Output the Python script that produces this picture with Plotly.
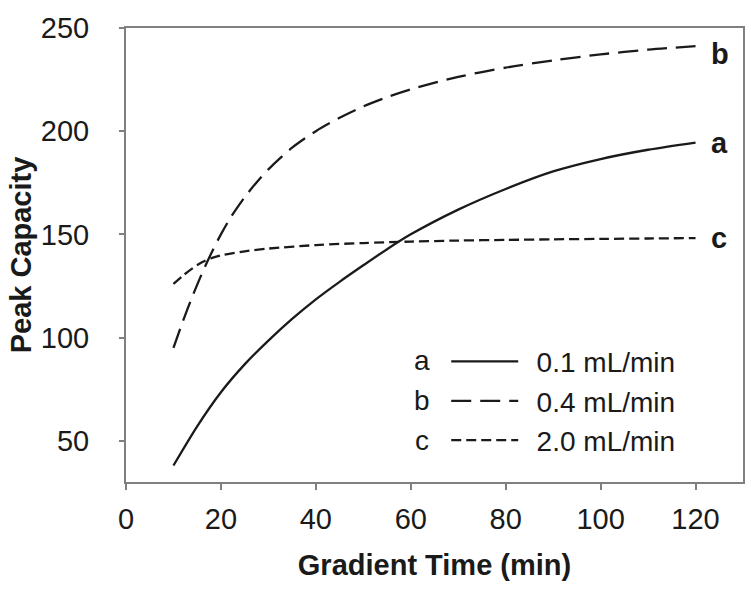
import plotly.graph_objects as go

# Gradient time (min)
time_a = [10, 15, 20, 25, 30, 35, 40, 45, 50, 55, 60, 70, 80, 90, 100, 110, 120]
cap_a = [38, 57, 73.5, 87, 98.5, 109, 118.5, 127, 135, 142.8, 150, 162, 172, 180.5, 186.5, 191, 194.5]

time_b = [10, 12, 14, 16, 18, 20, 22, 25, 28, 30, 35, 40, 45, 50, 55, 60, 70, 80, 90, 100, 110, 120]
cap_b = [95, 108, 120, 131, 141, 150, 158, 168, 176.5, 181.5, 192, 200, 206.5, 212, 216.5, 220.3, 226.3, 230.8, 234.3, 237.2, 239.5, 241.2]

time_c = [10, 12, 14, 16, 18, 20, 25, 30, 40, 50, 60, 70, 80, 90, 100, 110, 120]
cap_c = [126, 130, 133.5, 136.5, 138.5, 139.8, 141.8, 143.1, 144.8, 145.8, 146.5, 147, 147.3, 147.6, 147.8, 148, 148.2]

series_names = ["0.1 mL/min", "0.4 mL/min", "2.0 mL/min"]
series_letters = ["a", "b", "c"]
dashes = ["solid", "20px,9px", "10px,5px"]
label_yshift = [0, -8, 0]

x_ticks = [0, 20, 40, 60, 80, 100, 120]
y_ticks = [50, 100, 150, 200, 250]

FONT = "Liberation Sans, Arial, sans-serif"
INK = "#1a1a1a"
AXIS = "#808080"

fig = go.Figure()
data = [(time_a, cap_a), (time_b, cap_b), (time_c, cap_c)]
for i, (xs, ys) in enumerate(data):
    fig.add_trace(go.Scatter(
        x=xs, y=ys, mode="lines", name="\u00a0\u2009" + series_names[i],
        line=dict(color=INK, width=2.3, dash=dashes[i], shape="spline", smoothing=0.8),
    ))
    # end-of-curve letter labels
    fig.add_annotation(
        x=xs[-1], y=ys[-1], xref="x", yref="y", text="<b>%s</b>" % series_letters[i],
        showarrow=False, xanchor="left", yanchor="middle", xshift=13, yshift=label_yshift[i],
        font=dict(family=FONT, size=29, color=INK),
    )

# legend letters (left of legend samples)
legend_letter_y = [0.2687, 0.1806, 0.0925]
for letter, ly in zip(series_letters, legend_letter_y):
    fig.add_annotation(
        x=0.48, y=ly, xref="paper", yref="paper", text=letter,
        showarrow=False, xanchor="center", yanchor="middle",
        font=dict(family=FONT, size=28, color=INK),
    )

fig.update_layout(
    width=751, height=590,
    margin=dict(l=126, r=8, t=28, b=108),
    paper_bgcolor="white", plot_bgcolor="white",
    font=dict(family=FONT, color=INK),
    showlegend=True,
    legend=dict(
        x=0.519, y=0.32, xanchor="left", yanchor="top",
        bgcolor="rgba(0,0,0,0)", borderwidth=0,
        font=dict(family=FONT, size=28, color=INK),
        tracegroupgap=0, itemwidth=67,
    ),
    xaxis=dict(
        range=[0, 130], tickvals=x_ticks, ticktext=[str(v) for v in x_ticks],
        showgrid=False, zeroline=False, automargin=False,
        showline=True, linecolor=AXIS, linewidth=2, mirror=True,
        ticks="outside", ticklen=6, tickwidth=1.5, tickcolor=AXIS,
        tickfont=dict(family=FONT, size=29, color=INK), ticklabelstandoff=4,
        title=dict(text="<b>Gradient Time (min)</b>", font=dict(family=FONT, size=29, color=INK), standoff=21),
    ),
    yaxis=dict(
        range=[30, 250], tickvals=y_ticks, ticktext=[str(v) for v in y_ticks],
        showgrid=False, zeroline=False, automargin=False,
        showline=True, linecolor=AXIS, linewidth=2, mirror=True,
        ticks="outside", ticklen=5, tickwidth=1.5, tickcolor=AXIS,
        tickfont=dict(family=FONT, size=29, color=INK), ticklabelstandoff=24,
        title=dict(text="<b>Peak Capacity</b>", font=dict(family=FONT, size=29, color=INK), standoff=1),
    ),
)

fig.write_html("out.html", config={"displayModeBar": False},
               post_script="document.body.style.margin='0';")
